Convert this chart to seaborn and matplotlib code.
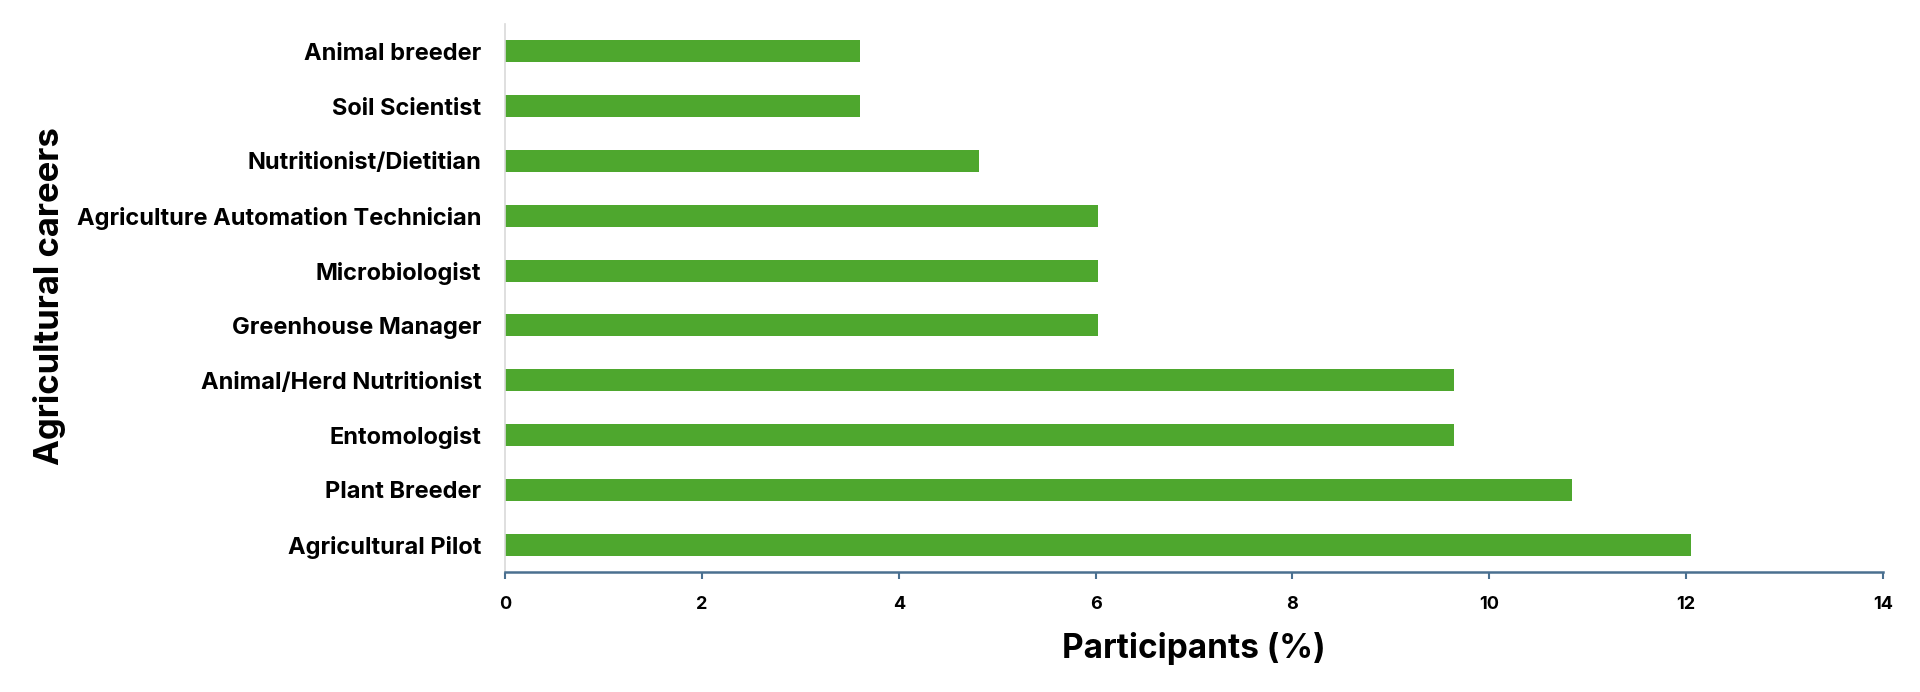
import matplotlib
matplotlib.use("Agg")
import matplotlib.pyplot as plt
import seaborn as sns
import pandas as pd

careers = [
    "Animal breeder",
    "Soil Scientist",
    "Nutritionist/Dietitian",
    "Agriculture Automation Technician",
    "Microbiologist",
    "Greenhouse Manager",
    "Animal/Herd Nutritionist",
    "Entomologist",
    "Plant Breeder",
    "Agricultural Pilot",
]
participants = [3.61, 3.61, 4.82, 6.02, 6.02, 6.02, 9.64, 9.64, 10.84, 12.05]
x_ticks = [0, 2, 4, 6, 8, 10, 12, 14]

df = pd.DataFrame({"career": careers, "pct": participants})

sns.set_style("white")
plt.rcParams["font.family"] = ["Inter", "DejaVu Sans"]
plt.rcParams["text.color"] = "black"
plt.rcParams["axes.labelcolor"] = "black"
plt.rcParams["xtick.color"] = "black"
plt.rcParams["ytick.color"] = "black"

fig = plt.figure(figsize=(19.2, 6.92), dpi=100)
ax = fig.add_axes([505 / 1920, 1 - 572 / 692, (1883 - 505) / 1920, (572 - 24) / 692])

sns.barplot(data=df, x="pct", y="career", order=careers, color="#4EA72E",
            saturation=1, width=0.4, orient="h", ax=ax, edgecolor="none")

ax.set_xlim(0, 14)
ax.set_ylim(9.5, -0.5)
ax.set_xticks(x_ticks)
ax.set_xticklabels([str(t) for t in x_ticks], fontsize=13, fontweight="bold", color="black")
ax.set_yticklabels(careers, fontsize=17, fontweight="bold", color="black")
ax.tick_params(axis="y", length=0, pad=17)
ax.tick_params(axis="x", direction="out", length=5, width=1.5, color="#4A7090", pad=12, bottom=True)

for s in ["top", "right"]:
    ax.spines[s].set_visible(False)
ax.spines["left"].set_color("#D9D9D9")
ax.spines["left"].set_linewidth(1.2)
ax.spines["bottom"].set_color("#4A7090")
ax.spines["bottom"].set_linewidth(1.8)

ax.set_xlabel("Participants (%)", fontsize=24, fontweight="bold", labelpad=14, color="black")
ax.set_ylabel("")
fig.text(50 / 1920, 1 - 296 / 692, "Agricultural careers", rotation=90, fontsize=25,
         fontweight="bold", ha="center", va="center", color="black")

fig.savefig("out.png", dpi=100, facecolor="white")
